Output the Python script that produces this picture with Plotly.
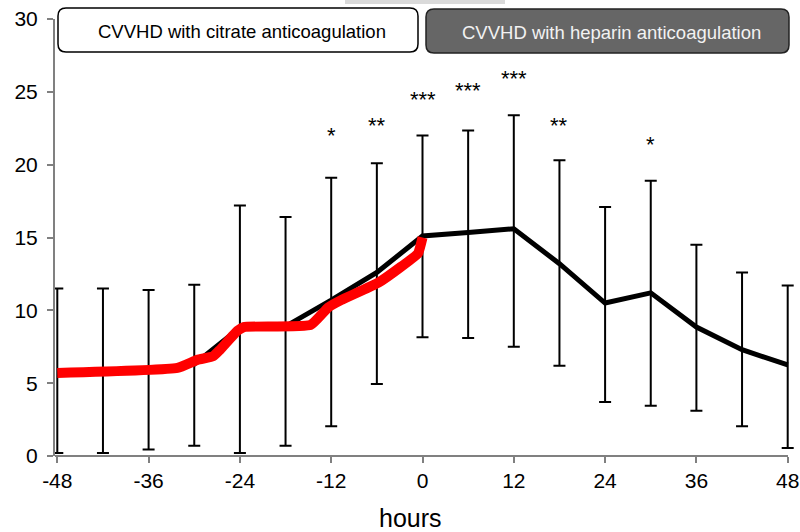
import plotly.graph_objects as go

# ---- data ----
hours = [-48, -42, -36, -30, -24, -18, -12, -6, 0, 6, 12, 18, 24, 30, 36, 42, 48]
mean_vals = [5.7, 5.8, 5.9, 6.3, 8.8, 8.9, 10.7, 12.6, 15.1, 15.35, 15.6, 13.2, 10.5, 11.2, 8.85, 7.3, 6.25]
upper_vals = [11.5, 11.5, 11.4, 11.75, 17.2, 16.4, 19.1, 20.1, 22.0, 22.35, 23.4, 20.3, 17.1, 18.9, 14.5, 12.6, 11.7]
lower_vals = [0.2, 0.2, 0.45, 0.7, 0.2, 0.7, 2.05, 4.95, 8.15, 8.1, 7.5, 6.2, 3.7, 3.45, 3.1, 2.05, 0.55]

red_hours = [-48, -32.2, -29.6, -27.5, -26.6, -24.3, -23.5, -14.7, -12.4, -10.7, -5.8, -2.8, -0.6, 0]
red_vals = [5.7, 6.05, 6.6, 6.85, 7.3, 8.6, 8.85, 9.0, 10.2, 10.7, 11.9, 13.0, 13.9, 15.0]

star_hours = [-12, -6, 0, 6, 12, 18, 30]
star_labels = ["*", "**", "***", "***", "***", "**", "*"]
star_y = [22.2, 22.9, 24.7, 25.3, 26.1, 22.9, 21.6]

x_ticks = [-48, -36, -24, -12, 0, 12, 24, 36, 48]
y_ticks = [0, 5, 10, 15, 20, 25, 30]

FONT = "Liberation Sans, Arial, sans-serif"

# ---- geometry helpers (pixel -> paper) ----
L, R, T, B = 55, 6, 19, 76
W, H = 800 - L - R, 532 - T - B
def px(X):
    return (X - L) / W
def py(Y):
    return (532 - B - Y) / H

err_plus = [u - m for u, m in zip(upper_vals, mean_vals)]
err_minus = [m - l for m, l in zip(mean_vals, lower_vals)]

fig = go.Figure()
fig.add_trace(go.Scatter(
    x=hours, y=mean_vals, mode="lines",
    line=dict(color="black", width=5),
    error_y=dict(type="data", symmetric=False, array=err_plus, arrayminus=err_minus,
                 color="black", thickness=2, width=6),
    showlegend=False, hoverinfo="skip"))
fig.add_trace(go.Scatter(
    x=red_hours, y=red_vals, mode="lines",
    line=dict(color="#ff0000", width=10, shape="spline", smoothing=0.4),
    showlegend=False, hoverinfo="skip"))

for h, lab, yv in zip(star_hours, star_labels, star_y):
    fig.add_annotation(x=h, y=yv, text=lab, showarrow=False, xref="x", yref="y",
                       font=dict(family=FONT, size=22, color="black"),
                       yanchor="middle", xanchor="center", yshift=-3)

def rounded(x0, y0, x1, y1, r):
    def P(X, Y):
        return f"{px(X):.5f},{py(Y):.5f}"
    return (f"M {P(x0 + r, y0)} L {P(x1 - r, y0)} Q {P(x1, y0)} {P(x1, y0 + r)} "
            f"L {P(x1, y1 - r)} Q {P(x1, y1)} {P(x1 - r, y1)} L {P(x0 + r, y1)} "
            f"Q {P(x0, y1)} {P(x0, y1 - r)} L {P(x0, y0 + r)} Q {P(x0, y0)} {P(x0 + r, y0)} Z")

shapes = [
    dict(type="rect", xref="paper", yref="paper", x0=px(345), x1=px(505), y0=py(4), y1=py(-2),
         fillcolor="rgba(150,150,150,0.35)", line=dict(width=0), layer="above"),
    dict(type="path", xref="paper", yref="paper", path=rounded(58, 8, 418, 52, 8),
         fillcolor="white", line=dict(color="black", width=1.5), layer="above"),
    dict(type="path", xref="paper", yref="paper", path=rounded(426, 9, 789, 53, 8),
         fillcolor="#666666", line=dict(color="#222222", width=1.5), layer="above"),
    dict(type="line", xref="paper", yref="paper", x0=0, x1=px(788), y0=0, y1=0,
         line=dict(color="#808080", width=2), layer="below"),
]
fig.update_layout(shapes=shapes)

fig.add_annotation(x=px(242), y=py(31), xref="paper", yref="paper",
                   text="CVVHD with citrate anticoagulation", showarrow=False,
                   font=dict(family=FONT, size=18.5, color="black"), xanchor="center", yanchor="middle")
fig.add_annotation(x=px(611), y=py(32), xref="paper", yref="paper",
                   text="CVVHD with heparin anticoagulation", showarrow=False,
                   font=dict(family=FONT, size=18.5, color="#f2f2f2"), xanchor="center", yanchor="middle")
fig.add_annotation(x=px(410), y=py(518), xref="paper", yref="paper",
                   text="hours", showarrow=False,
                   font=dict(family=FONT, size=25, color="black"), xanchor="center", yanchor="middle")

x_left_px, x_right_px = 57.3, 787.7
px_per_h = (x_right_px - x_left_px) / 96
fig.update_xaxes(range=[-48 - (x_left_px - L) / px_per_h, 48 + (800 - R - x_right_px) / px_per_h],
                 tickvals=x_ticks, ticktext=[str(v) for v in x_ticks],
                 ticks="outside", ticklen=6, tickwidth=2, tickcolor="#808080",
                 showline=False, showgrid=False, zeroline=False, automargin=False,
                 tickfont=dict(family=FONT, size=21, color="black"))
fig.update_yaxes(range=[0, 30], tickvals=y_ticks,
                 ticks="outside", ticklen=6, tickwidth=2, tickcolor="#808080",
                 showline=True, linecolor="#808080", linewidth=2,
                 showgrid=False, zeroline=False, automargin=False, ticklabelstandoff=5,
                 tickfont=dict(family=FONT, size=21, color="black"))
fig.update_layout(width=800, height=532, margin=dict(l=L, r=R, t=T, b=B, autoexpand=False),
                  plot_bgcolor="white", paper_bgcolor="white")
fig.write_html("out.html")
